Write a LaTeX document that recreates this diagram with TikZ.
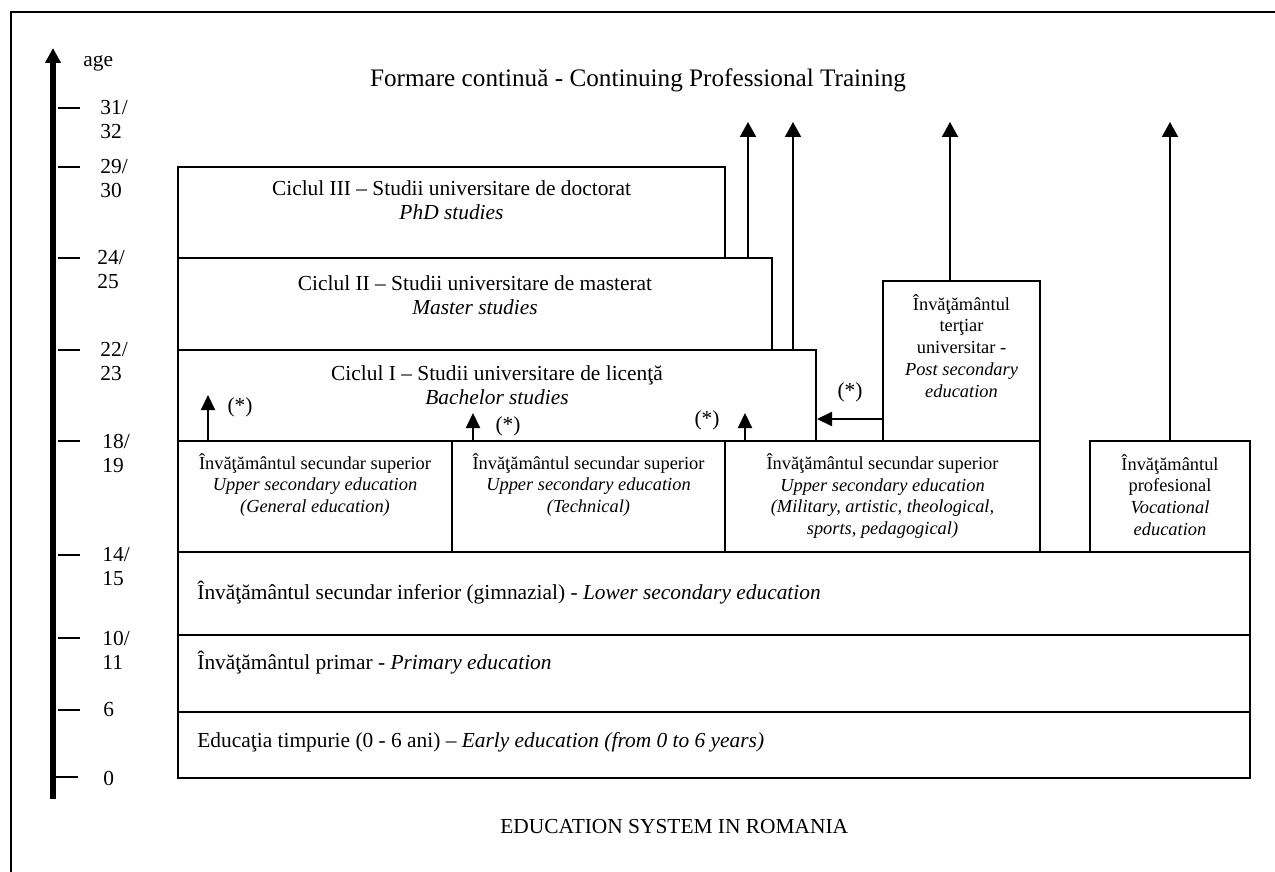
\documentclass[tikz,border=0pt]{standalone}
\usepackage{fontspec}
\setmainfont{Liberation Serif}
\usetikzlibrary{arrows.meta,fit}
\newcommand{\txtbig}{\fontsize{10.7}{12}\selectfont}
\newcommand{\txtsmall}{\fontsize{9.2}{10.9}\selectfont}
\newcommand{\txttitle}{\fontsize{12.6}{14}\selectfont}
\tikzset{
  lvl/.style={draw, line width=1pt, inner sep=0pt},
  lbl/.style={inner sep=0pt, align=center, font=\txtbig},
  slbl/.style={inner sep=0pt, align=center, font=\txtsmall},
  agelbl/.style={inner sep=0pt, anchor=west, align=left, font=\txtbig},
  toparrow/.style={line width=1pt, -{Triangle[length=7.5pt,width=8pt]}},
  smallarrow/.style={line width=1pt, -{Triangle[length=7.5pt,width=7pt]}},
}
\begin{document}
\begin{tikzpicture}[x=0.5pt,y=-0.5pt]
        \useasboundingbox (0,0) rectangle (1275,872);
        \draw [line width=1pt] (11,872) -- (11,12) -- (1275,12);          %frame
        % age axis
        \coordinate (abot) at (53,799);
        \coordinate (atop) at (53,48);
        \draw [line width=2.8pt, -{Triangle[length=7.5pt,width=7.5pt]}] (abot) -- (atop);
        \node [agelbl] (age) at (83,63) {age};
        \draw [line width=0.8pt] (58,108) -- (80,108);                      %31
        \node [agelbl] (a31) at (100,120) {31/\\32};
        \draw [line width=0.8pt] (58,167) -- (80,167);                      %29
        \node [agelbl] (a29) at (100,179) {29/\\30};
        \draw [line width=0.8pt] (58,258) -- (80,258);                      %24
        \node [agelbl] (a24) at (97,270) {24/\\25};
        \draw [line width=0.8pt] (58,350) -- (80,350);                      %22
        \node [agelbl] (a22) at (100,362) {22/\\23};
        \draw [line width=0.8pt] (58,441) -- (80,441);                      %18
        \node [agelbl] (a18) at (102,453) {18/\\19};
        \draw [line width=0.8pt] (58,555) -- (80,555);                      %14
        \node [agelbl] (a14) at (102,567) {14/\\15};
        \draw [line width=0.8pt] (58,638) -- (80,638);                      %10
        \node [agelbl] (a10) at (102,650) {10/\\11};
        \draw [line width=0.8pt] (58,710) -- (80,710);                      %6
        \node [agelbl] (a6) at (103,710) {6};
        \draw [line width=0.8pt] (55,777) -- (78,777);                      %0
        \node [agelbl] (a0) at (103,778) {0};
        % universitar
        \node [lvl, fit={(178,167) (725,258)}] (phd) {};                   %Ciclul III
        \node [lbl] (phdtxt) at (451.5,200.5) {Ciclul III -- Studii universitare de doctorat\\\textit{PhD studies}};
        \node [lvl, fit={(178,258) (772,350)}] (master) {};                %Ciclul II
        \node [lbl] (mastertxt) at (475,295) {Ciclul II -- Studii universitare de masterat\\\textit{Master studies}};
        \node [lvl, fit={(178,350) (816,441)}] (bach) {};                  %Ciclul I
        \node [lbl] (bachtxt) at (497,385.5) {Ciclul I -- Studii universitare de licenţă\\\textit{Bachelor studies}};
        \node [lvl, fit={(883,281) (1040,441)}] (tert) {};                 %tertiar
        \node [slbl] (terttxt) at (961.5,346) {Învăţământul\\terţiar\\universitar -\\\textit{Post secondary}\\\textit{education}};
        % secundar superior
        \node [lvl, fit={(178,441) (452,552)}] (usgen) {};
        \node [slbl] (usgentxt) at (315,485) {Învăţământul secundar superior\\\textit{Upper secondary education}\\\textit{(General education)}};
        \node [lvl, fit={(452,441) (725,552)}] (ustech) {};
        \node [slbl] (ustechtxt) at (588.5,485) {Învăţământul secundar superior\\\textit{Upper secondary education}\\\textit{(Technical)}};
        \node [lvl, fit={(725,441) (1040,552)}] (usmil) {};
        \node [slbl] (usmiltxt) at (882.5,496) {Învăţământul secundar superior\\\textit{Upper secondary education}\\\textit{(Military, artistic, theological,}\\\textit{sports, pedagogical)}};
        \node [lvl, fit={(1090,441) (1250,552)}] (voc) {};
        \node [slbl] (voctxt) at (1170,495) {Învăţământul\\profesional\\\textit{Vocational}\\\textit{education}};
        % gimnaziu, primar, timpuriu
        \node [lvl, fit={(178,552) (1250,635)}] (lower) {};
        \node [lbl, anchor=west] (lowertxt) at (197,593) {Învăţământul secundar inferior (gimnazial) - \textit{Lower secondary education}};
        \node [lvl, fit={(178,635) (1250,712)}] (prim) {};
        \node [lbl, anchor=west] (primtxt) at (197,663) {Învăţământul primar - \textit{Primary education}};
        \node [lvl, fit={(178,712) (1250,778)}] (early) {};
        \node [lbl, anchor=west] (earlytxt) at (197,742) {Educaţia timpurie (0 - 6 ani) -- \textit{Early education (from 0 to 6 years)}};
        % formare continua
        \node [inner sep=0pt, font=\txttitle] (title) at (638,80) {Formare continuă - Continuing Professional Training};
        \coordinate (cpt1) at (748,122);
        \coordinate (cpt2) at (793,122);
        \coordinate (cpt3) at (950,122);
        \draw [toparrow] (master.north -| cpt1) -- (cpt1);
        \draw [toparrow] (bach.north -| cpt2) -- (cpt2);
        \draw [toparrow] (tert.north -| cpt3) -- (cpt3);
        \draw [toparrow] (voc.north) -- (voc.north |- cpt3);
        % acces licenta (*)
        \coordinate (accA) at (208,395);
        \coordinate (accB) at (473,413);
        \coordinate (accC) at (745,413);
        \coordinate (accD) at (883,419);
        \draw [smallarrow] (usgen.north -| accA) -- (accA);
        \draw [smallarrow] (ustech.north -| accB) -- (accB);
        \draw [smallarrow] (usmil.north -| accC) -- (accC);
        \draw [smallarrow] (accD) -- (accD -| bach.east);
        \node [lbl] (starA) at (240,407) {(*)};
        \node [lbl] (starB) at (508,426) {(*)};
        \node [lbl] (starC) at (707,420) {(*)};
        \node [lbl] (starD) at (850,392) {(*)};
        \node [lbl, anchor=west] (caption) at (500,827) {EDUCATION SYSTEM IN ROMANIA};
\end{tikzpicture}
\end{document}
